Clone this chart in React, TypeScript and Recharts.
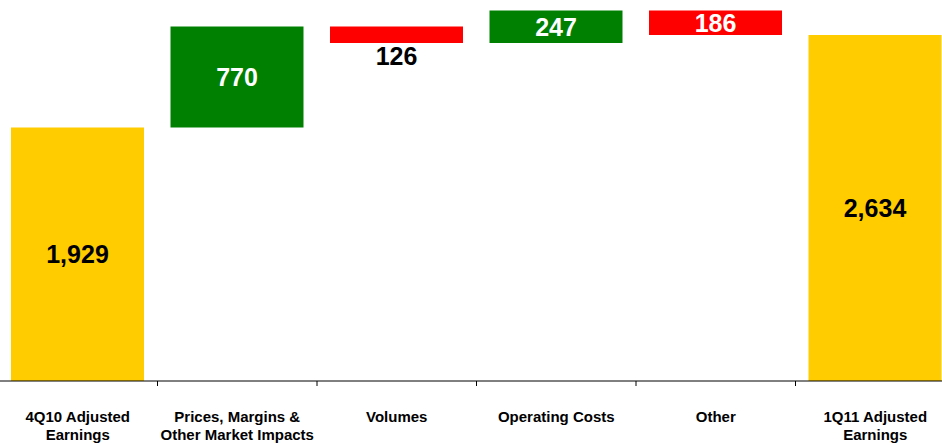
import { BarChart, Bar, XAxis, YAxis, Cell, LabelList } from "recharts"

const categories = [
  "4Q10 Adjusted\nEarnings",
  "Prices, Margins &\nOther Market Impacts",
  "Volumes",
  "Operating Costs",
  "Other",
  "1Q11 Adjusted\nEarnings",
]
const changes = [1929, 770, -126, 247, -186, 2634]
const isTotal = [true, false, false, false, false, true]

const COLORS = { total: "#FFCC00", up: "#008000", down: "#FF0000" }

const CHART_W = 957
const CHART_H = 443
const BAND = CHART_W / categories.length

let running = 0
const data = categories.map((name, i) => {
  const v = changes[i]
  let lo = 0
  let hi = v
  if (!isTotal[i]) {
    lo = Math.min(running, running + v)
    hi = Math.max(running, running + v)
    running += v
  } else {
    running = v
  }
  return { name, range: [lo, hi], change: v }
})

const colorFor = (i: number) =>
  isTotal[i] ? COLORS.total : changes[i] >= 0 ? COLORS.up : COLORS.down

function ValueLabel(props: any) {
  const { x, y, width, height, index } = props
  const text = Math.abs(changes[index]).toLocaleString("en-US")
  const cx = x + width / 2
  const small = Math.abs(height) < 22
  const cy = small ? y + Math.abs(height) + 22.5 : y + height / 2 + 9
  const fill = isTotal[index] || small ? "#000" : "#fff"
  return (
    <text
      x={cx}
      y={cy}
      textAnchor="middle"
      fontFamily="'Liberation Sans', Arial, sans-serif"
      fontWeight="bold"
      fontSize={25}
      fill={fill}
    >
      {text}
    </text>
  )
}

function CategoryTick(props: any) {
  const { x, y, payload, index } = props
  const lines = String(payload.value).split("\n")
  return (
    <g>
      {index > 0 && (
        <line x1={x - BAND / 2} x2={x - BAND / 2} y1={y} y2={y + 5} stroke="#000" />
      )}
      <text
        textAnchor="middle"
        fontFamily="'Liberation Sans', Arial, sans-serif"
        fontWeight="bold"
        fontSize={15}
        fill="#000"
      >
        {lines.map((l, k) => (
          <tspan key={k} x={x} y={y + 41 + k * 18}>
            {l}
          </tspan>
        ))}
      </text>
    </g>
  )
}

export default function App() {
  return (
    <div style={{ position: "absolute", left: 0, top: 0, width: 942, height: 443, overflow: "hidden", background: "#fff" }}>
      <div style={{ marginLeft: -2 }}>
        <BarChart
          width={CHART_W}
          height={CHART_H}
          data={data}
          margin={{ top: 0, right: 0, bottom: 0, left: 0 }}
        >
          <XAxis
            dataKey="name"
            interval={0}
            height={62}
            tickLine={false}
            tickSize={0}
            tickMargin={0}
            axisLine={{ stroke: "#000" }}
            tick={<CategoryTick />}
          />
          <YAxis hide domain={[0, 2900]} />
          <Bar dataKey="range" barSize={133} isAnimationActive={false}>
            {data.map((d, i) => (
              <Cell key={`cell-${i}`} fill={colorFor(i)} />
            ))}
            <LabelList dataKey="change" content={<ValueLabel />} />
          </Bar>
        </BarChart>
      </div>
    </div>
  )
}
